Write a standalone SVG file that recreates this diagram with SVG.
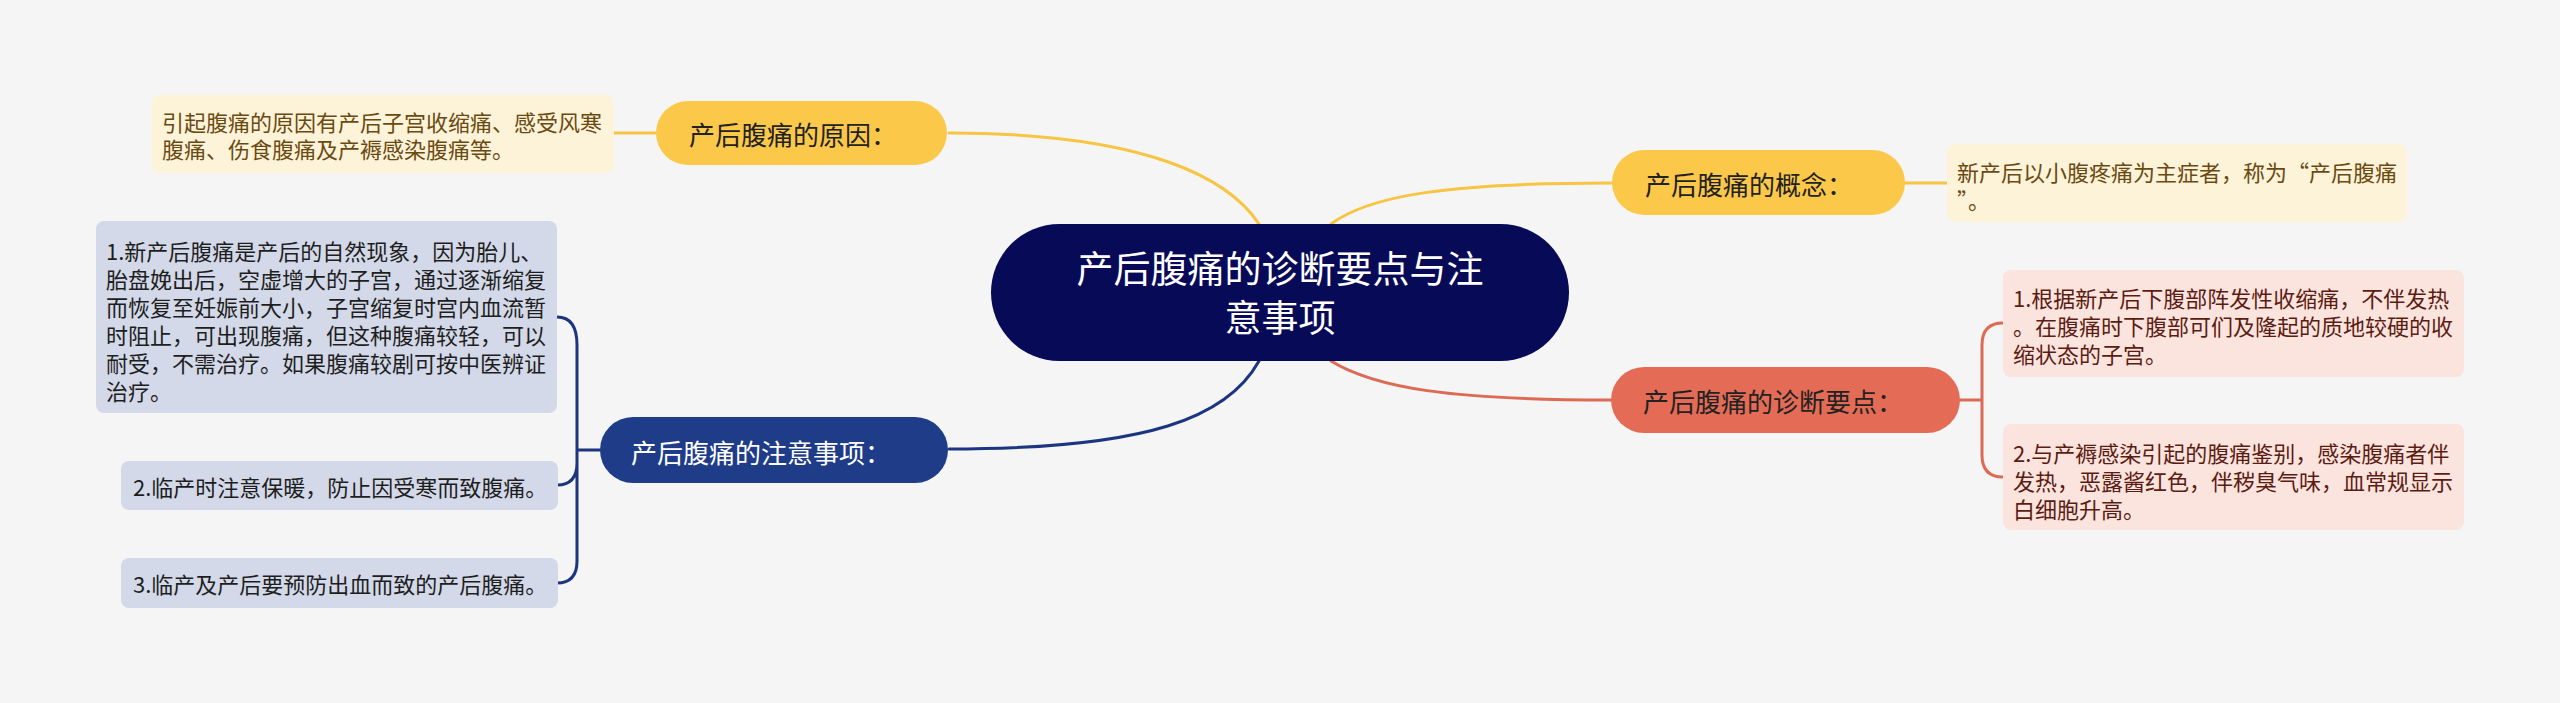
<svg xmlns="http://www.w3.org/2000/svg" width="2560" height="703" viewBox="0 0 2560 703">
<style>
text{font-family:"Noto Sans CJK SC","Noto Sans",sans-serif;dominant-baseline:central}
.main{font-size:26px}
.leaf{font-size:22px}
.c{fill:none;stroke-width:3;stroke-linecap:round}
.yl{stroke:#f8c443}
.rd{stroke:#dd6a55}
.bl{stroke:#1c3580}
</style>
<rect width="2560" height="703" fill="#f5f5f5"/>
<g id="connectors">
<path class="c yl" d="M 949 133 C 1150 133 1230 180 1259 224"/>
<path class="c yl" d="M 1331 224 C 1370 195 1450 183 1612 183"/>
<path class="c rd" d="M 1331 361 C 1375 388 1450 400 1611 400"/>
<path class="c bl" d="M 1259 361 C 1228 417 1150 449 949 449"/>
<path class="c yl" d="M 614 133 H 656"/>
<path class="c yl" d="M 1905 183 H 1947"/>
<path class="c rd" d="M 1960 400 H 1982 M 1982 400 V 345 Q 1982 323 2003 323 M 1982 400 V 455 Q 1982 477 2003 477"/>
<path class="c bl" d="M 600 450 H 577 M 577 450 V 345 Q 577 317 557 317 M 577 450 V 463 Q 577 485 557 485 M 577 450 V 561 Q 577 583 557 583"/>
</g>
<g id="center">
<rect x="991" y="224" width="578" height="137" rx="68.5" fill="#070b57"/>
<text x="1280" y="267" font-size="37" fill="#ffffff" text-anchor="middle">产后腹痛的诊断要点与注</text>
<text x="1280" y="316" font-size="37" fill="#ffffff" text-anchor="middle">意事项</text>
</g>
<g id="cause">
<rect x="656" y="101" width="291" height="64" rx="32" fill="#fcc84a"/>
<text class="main" x="689" y="133" fill="#222222">产后腹痛的原因：</text>
</g>
<g id="cause-leaf">
<rect x="152" y="95" width="462" height="78" rx="8" fill="#fdf3d8"/>
<text class="leaf" x="162" y="121" fill="#6b4a12">引起腹痛的原因有产后子宫收缩痛、感受风寒</text>
<text class="leaf" x="162" y="148" fill="#6b4a12">腹痛、伤食腹痛及产褥感染腹痛等。</text>
</g>
<g id="concept">
<rect x="1612" y="150" width="293" height="65" rx="32.5" fill="#fcc84a"/>
<text class="main" x="1645" y="183" fill="#222222">产后腹痛的概念：</text>
</g>
<g id="concept-leaf">
<rect x="1947" y="144" width="460" height="78" rx="8" fill="#fdf3d8"/>
<text class="leaf" x="1957" y="171" fill="#6b4a12">新产后以小腹疼痛为主症者，称为“产后腹痛</text>
<text class="leaf" x="1957" y="199" fill="#6b4a12">”。</text>
</g>
<g id="diagnosis">
<rect x="1611" y="367" width="349" height="66" rx="33" fill="#e46c56"/>
<text class="main" x="1643" y="400" fill="#222222">产后腹痛的诊断要点：</text>
</g>
<g id="diag-leaf-1">
<rect x="2003" y="270" width="461" height="107" rx="8" fill="#fbe3de"/>
<text class="leaf" x="2013" y="297" fill="#5b1c12">1.根据新产后下腹部阵发性收缩痛，不伴发热</text>
<text class="leaf" x="2013" y="325" fill="#5b1c12">。在腹痛时下腹部可们及隆起的质地较硬的收</text>
<text class="leaf" x="2013" y="353" fill="#5b1c12">缩状态的子宫。</text>
</g>
<g id="diag-leaf-2">
<rect x="2003" y="424" width="461" height="106" rx="8" fill="#fbe3de"/>
<text class="leaf" x="2013" y="452" fill="#5b1c12">2.与产褥感染引起的腹痛鉴别，感染腹痛者伴</text>
<text class="leaf" x="2013" y="480" fill="#5b1c12">发热，恶露酱红色，伴秽臭气味，血常规显示</text>
<text class="leaf" x="2013" y="508" fill="#5b1c12">白细胞升高。</text>
</g>
<g id="notes">
<rect x="600" y="417" width="348" height="66" rx="33" fill="#1f3c88"/>
<text class="main" x="631" y="451" fill="#ffffff">产后腹痛的注意事项：</text>
</g>
<g id="notes-leaf-1">
<rect x="96" y="221" width="461" height="192" rx="8" fill="#d3d9e8"/>
<text class="leaf" x="106" y="250" fill="#1e1e1e">1.新产后腹痛是产后的自然现象，因为胎儿、</text>
<text class="leaf" x="106" y="278" fill="#1e1e1e">胎盘娩出后，空虚增大的子宫，通过逐渐缩复</text>
<text class="leaf" x="106" y="306" fill="#1e1e1e">而恢复至妊娠前大小，子宫缩复时宫内血流暂</text>
<text class="leaf" x="106" y="334" fill="#1e1e1e">时阻止，可出现腹痛，但这种腹痛较轻，可以</text>
<text class="leaf" x="106" y="362" fill="#1e1e1e">耐受，不需治疗。如果腹痛较剧可按中医辨证</text>
<text class="leaf" x="106" y="390" fill="#1e1e1e">治疗。</text>
</g>
<g id="notes-leaf-2">
<rect x="121" y="461" width="437" height="49" rx="8" fill="#d3d9e8"/>
<text class="leaf" x="133" y="486" fill="#1e1e1e">2.临产时注意保暖，防止因受寒而致腹痛。</text>
</g>
<g id="notes-leaf-3">
<rect x="121" y="558" width="437" height="50" rx="8" fill="#d3d9e8"/>
<text class="leaf" x="133" y="583" fill="#1e1e1e">3.临产及产后要预防出血而致的产后腹痛。</text>
</g>
</svg>
